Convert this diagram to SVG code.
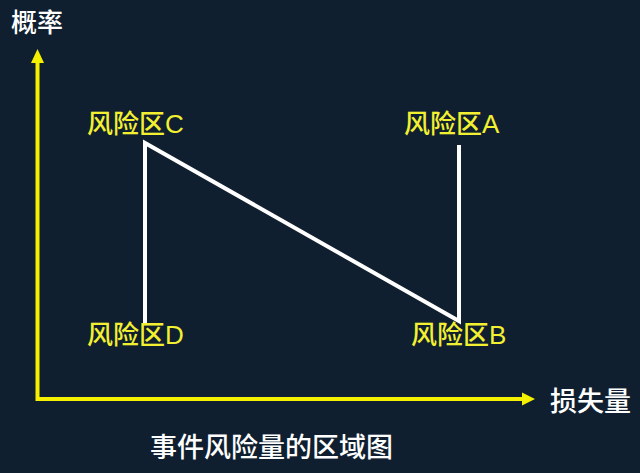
<svg xmlns="http://www.w3.org/2000/svg" width="640" height="473" viewBox="0 0 640 473">
<defs>
<style>
.axis{stroke:#f5f000;stroke-width:4;fill:none}
.head{fill:#f5f000}
.ln{stroke:#ffffff;stroke-width:4;fill:none;stroke-linejoin:miter}
.lbl{font-family:"Liberation Sans","Noto Sans CJK SC",sans-serif;font-size:26px;fill:#f2f030;font-weight:500}
.wt{font-family:"Liberation Sans","Noto Sans CJK SC",sans-serif;fill:#ffffff;font-weight:500}
</style>
</defs>
<rect width="640" height="473" fill="#0f1f30"/>
<g id="axes">
<path class="axis" d="M37.5,60 V399 H524"/>
<polygon class="head" points="37.5,49 44,63 31,63"/>
<polygon class="head" points="535,399 522,392.5 522,405.5"/>
</g>
<g id="connectors">
<path class="ln" d="M145,323 V143 L459,321 V145"/>
</g>
<g id="nodeC"><text class="lbl" x="87" y="133">风险区C</text></g>
<g id="nodeA"><text class="lbl" x="404" y="133">风险区A</text></g>
<g id="nodeD"><text class="lbl" x="87" y="344">风险区D</text></g>
<g id="nodeB"><text class="lbl" x="411" y="344">风险区B</text></g>
<g id="ylabel"><text class="wt" x="11" y="32" font-size="26">概率</text></g>
<g id="xlabel"><text class="wt" x="550" y="411" font-size="27">损失量</text></g>
<g id="title"><text class="wt" x="150" y="457" font-size="27">事件风险量的区域图</text></g>
</svg>
